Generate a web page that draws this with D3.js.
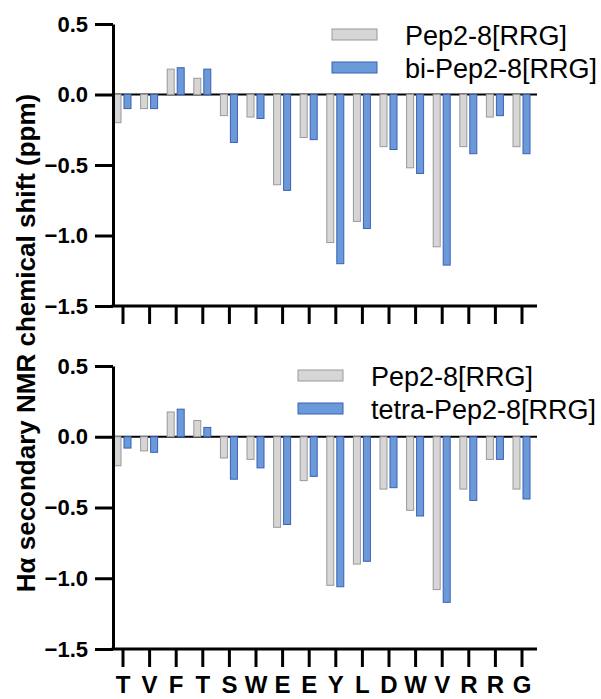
<!DOCTYPE html>
<head>
<meta charset="utf-8">
<style>
body {
  margin: 0;
  background: #fff;
  font-family: "Liberation Sans", Arial, sans-serif;
}
.axis path, .axis line {
  stroke: #000;
  stroke-width: 3px;
}
.axis text {
  font-family: "Liberation Sans", Arial, sans-serif;
  font-weight: bold;
  fill: #000;
}
.ref {
  fill: #d6d6d6;
  stroke: #999;
  stroke-width: 1px;
}
.mod {
  fill: #6a9bd8;
  stroke: #3d5fb8;
  stroke-width: 1px;
}
.legend text {
  font-size: 27px;
  fill: #000;
}
</style>
</head>
<body>
<script src="https://d3js.org/d3.v7.min.js"></script>
<script>
// residues of the peptide
var residues = ["T", "V", "F", "T", "S", "W", "E", "E", "Y", "L", "D", "W", "V", "R", "R", "G"];
var yTicks = [0.5, 0.0, -0.5, -1.0, -1.5];

// top panel
var pep2_8_top = [-0.20, -0.10, 0.18, 0.115, -0.15, -0.16, -0.64, -0.305, -1.05, -0.90, -0.37, -0.52, -1.08, -0.37, -0.16, -0.37];
var biPep2_8 = [-0.10, -0.10, 0.19, 0.18, -0.34, -0.17, -0.68, -0.32, -1.20, -0.95, -0.39, -0.56, -1.21, -0.42, -0.15, -0.42];

// bottom panel
var pep2_8_bot = [-0.205, -0.10, 0.175, 0.115, -0.15, -0.16, -0.64, -0.31, -1.05, -0.90, -0.37, -0.52, -1.08, -0.37, -0.16, -0.37];
var tetraPep2_8 = [-0.08, -0.11, 0.195, 0.066, -0.30, -0.22, -0.62, -0.28, -1.06, -0.88, -0.36, -0.56, -1.17, -0.45, -0.16, -0.44];

var refName = "Pep2-8[RRG]";
var biName = "bi-Pep2-8[RRG]";
var tetraName = "tetra-Pep2-8[RRG]";

var W = 601, H = 699,
    axisLeft = 113, axisRight = 537,
    barW = 7;

var svg = d3.select("body").append("svg")
  .attr("width", W)
  .attr("height", H);

var x = d3.scalePoint()
  .domain(d3.range(residues.length))
  .range([122.5, 521.5]);

function panel(top, bottom, refVals, modVals, modName, legendX, legendY, showLabels) {
  var y = d3.scaleLinear()
    .domain([-1.5, 0.5])
    .range([bottom, top]);

  var g = svg.append("g");

  // zero line
  g.append("line")
    .attr("x1", axisLeft).attr("x2", axisRight)
    .attr("y1", y(0)).attr("y2", y(0))
    .attr("stroke", "#000")
    .attr("stroke-width", 2);

  g.selectAll("rect.ref")
    .data(refVals)
    .join("rect")
    .attr("class", "ref")
    .attr("x", function(d, i) { return x(i) - 8.5; })
    .attr("y", function(d) { return Math.min(y(d), y(0)); })
    .attr("width", barW)
    .attr("height", function(d) { return Math.abs(y(d) - y(0)); });

  g.selectAll("rect.mod")
    .data(modVals)
    .join("rect")
    .attr("class", "mod")
    .attr("x", function(d, i) { return x(i) + 1.5; })
    .attr("y", function(d) { return Math.min(y(d), y(0)); })
    .attr("width", barW)
    .attr("height", function(d) { return Math.abs(y(d) - y(0)); });

  // y axis
  var ya = g.append("g")
    .attr("class", "axis")
    .attr("transform", "translate(" + axisLeft + ",0)")
    .call(d3.axisLeft(y)
      .tickValues(yTicks)
      .tickFormat(d3.format(".1f"))
      .tickSize(18)
      .tickSizeOuter(0)
      .tickPadding(7));
  ya.selectAll("text").style("font-size", "22px");

  // x axis
  var xa = g.append("g")
    .attr("class", "axis")
    .attr("transform", "translate(0," + bottom + ")")
    .call(d3.axisBottom(x)
      .tickSize(18)
      .tickSizeOuter(0)
      .tickPadding(9)
      .tickFormat(function(i) { return showLabels ? residues[i] : ""; }));
  xa.select(".domain").attr("d", "M" + (axisLeft - 1.5) + ",0H" + axisRight);
  xa.selectAll("text").style("font-size", "24px");

  // legend
  var lg = g.append("g")
    .attr("class", "legend")
    .attr("transform", "translate(" + legendX + "," + legendY + ")");
  lg.append("rect").attr("class", "ref")
    .attr("x", 0).attr("y", 0).attr("width", 45).attr("height", 11);
  lg.append("rect").attr("class", "mod")
    .attr("x", 0).attr("y", 33).attr("width", 45).attr("height", 11);
  lg.append("text").attr("x", 73).attr("y", 16).text(refName);
  lg.append("text").attr("x", 73).attr("y", 49).text(modName);
}

panel(24, 306, pep2_8_top, biPep2_8, biName, 332, 29, false);
panel(366, 649, pep2_8_bot, tetraPep2_8, tetraName, 298, 370, true);

svg.append("text")
  .attr("transform", "translate(35,343) rotate(-90)")
  .attr("text-anchor", "middle")
  .style("font-size", "26px")
  .style("font-weight", "bold")
  .text("Hα secondary NMR chemical shift (ppm)");
</script>
</body>
